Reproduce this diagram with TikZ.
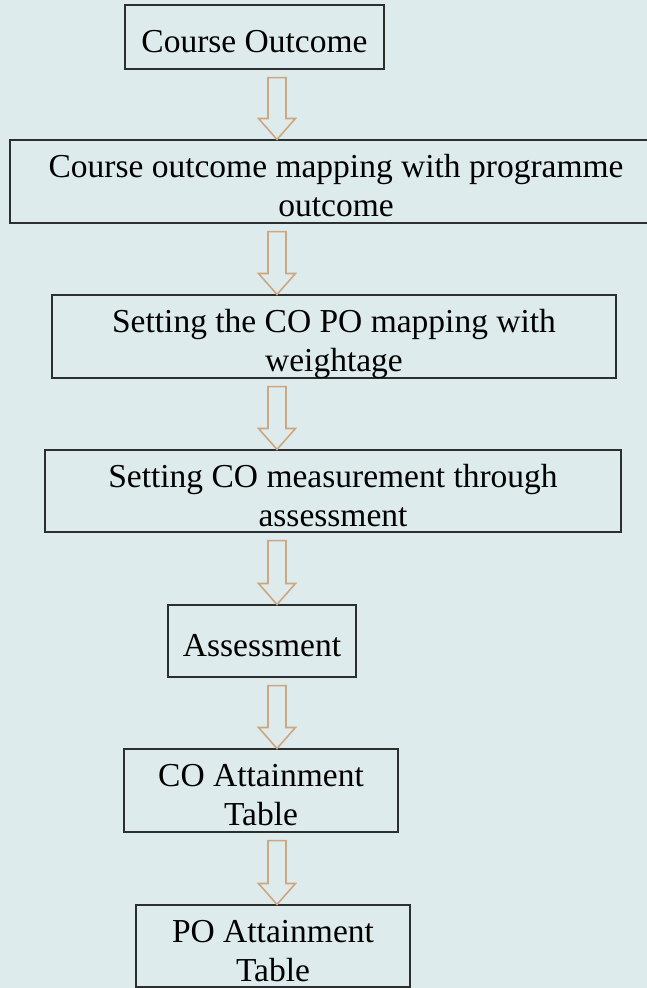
\documentclass[tikz,border=0pt]{standalone}
\usepackage{fontspec}
\setmainfont{Liberation Serif}
\usetikzlibrary{calc}
\definecolor{paper}{RGB}{222,235,236}
\definecolor{arrowtan}{RGB}{206,166,128}
\definecolor{boxline}{RGB}{45,47,47}

\begin{document}
\begin{tikzpicture}[x=1pt,y=-1pt,
    stepbox/.style={draw=boxline,line width=1.1pt,inner sep=0pt,align=center,
      font=\fontsize{33.5}{39}\selectfont,text height=38pt,text depth=8pt},
    twoline/.style={text height=74pt,text depth=4pt},
    hollow/.style={draw=arrowtan,line width=1.6pt,line join=miter}]
     \useasboundingbox (0,0) rectangle (647,988);
     \fill[paper] (0,0) rectangle (647,988);
     \coordinate (ax) at (277,0);

     \node[stepbox,minimum width=259pt,minimum height=64pt] (co) at (254.5,37) {Course Outcome};
     \node[stepbox,twoline,minimum width=652pt,minimum height=83pt] (comap) at (336,181.5)
        {Course outcome mapping with programme\\outcome};
     \node[stepbox,twoline,minimum width=564pt,minimum height=83pt] (weight) at (334,336.5)
        {Setting the CO PO mapping with\\weightage};
     \node[stepbox,twoline,minimum width=576pt,minimum height=82pt] (measure) at (333,491)
        {Setting CO measurement through\\assessment};
     \node[stepbox,minimum width=188pt,minimum height=72pt] (assess) at (262,641) {Assessment};
     \node[stepbox,twoline,minimum width=274pt,minimum height=83pt] (coatt) at (261,790.5)
        {CO Attainment\\Table};
     \node[stepbox,twoline,minimum width=274pt,minimum height=82pt] (poatt) at (273,946)
        {PO Attainment\\Table};

     \foreach \a/\b in {co/comap,comap/weight,weight/measure,measure/assess,assess/coatt,coatt/poatt}
       \draw[hollow] let \p1=([yshift=-8pt]\a.south -| ax), \p2=(\b.north -| ax) in
         (\x1-9pt,\y1) -- (\x1+9pt,\y1) -- (\x1+9pt,\y2+21pt) -- (\x1+18.5pt,\y2+21pt)
         -- (\x2,\y2) -- (\x1-18.5pt,\y2+21pt) -- (\x1-9pt,\y2+21pt) -- cycle;
\end{tikzpicture}
\end{document}
